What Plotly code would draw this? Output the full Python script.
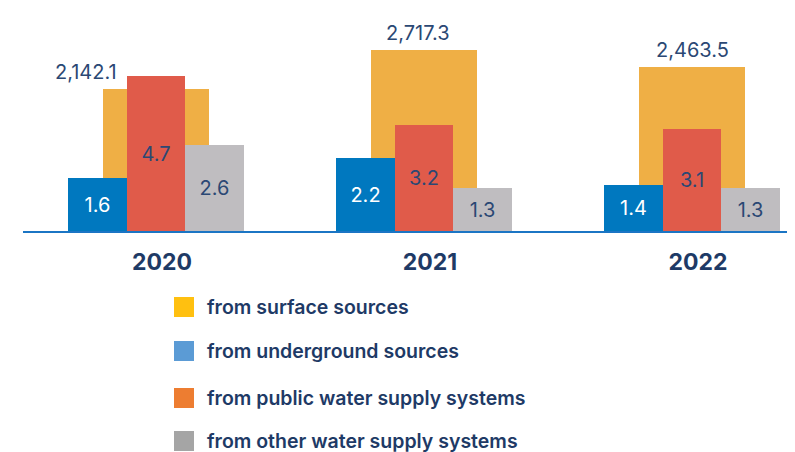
import plotly.graph_objects as go

years = ["2020", "2021", "2022"]
surface = [2142.1, 2717.3, 2463.5]
underground = [1.6, 2.2, 1.4]
public = [4.7, 3.2, 3.1]
other = [2.6, 1.3, 1.3]
legend_labels = ["from surface sources", "from underground sources",
                 "from public water supply systems", "from other water supply systems"]

OFF = 8  # default page body margin
W, H = 795 - OFF, 452 - OFF
L, T = 23 - OFF, 0
AXIS_Y = 231 - OFF
B = H - AXIS_Y
PW, PH = W - L, AXIS_Y - T

NAVY = "#2B4874"
TITLE = "#1E3A66"
FONT = "Inter, Lato, sans-serif"

C_SURF = "#EFAF45"
C_UND = "#0078BF"
C_PUB = "#E05B4A"
C_OTH = "#BFBDC0"
LEG_COLORS = ["#FFC010", "#5B9BD5", "#ED7D31", "#A5A5A5"]

xs = list(range(len(years)))

fig = go.Figure()
fig.add_trace(go.Bar(x=xs, y=surface, width=0.396, offset=-0.198, marker_color=C_SURF,
                     marker_line_width=0, yaxis="y", showlegend=False, hoverinfo="skip"))

small = [(underground, C_UND, -0.33, "white"),
         (public, C_PUB, -0.11, NAVY),
         (other, C_OTH, 0.11, NAVY)]
for vals, col, off, tcol in small:
    fig.add_trace(go.Bar(x=xs, y=vals, width=0.22, offset=off, marker_color=col,
                         marker_line_width=0, yaxis="y2", showlegend=False,
                         texttemplate="%{y:.1f}", textposition="inside",
                         insidetextanchor="middle", textangle=0, constraintext="none",
                         insidetextfont=dict(color=tcol, size=20, family=FONT),
                         hoverinfo="skip"))

# value labels for surface sources
xshifts = [-70, -6, 0]
for i, v in enumerate(surface):
    fig.add_annotation(x=xs[i], y=v, xref="x", yref="y", text=f"{v:,.1f}",
                       showarrow=False, yanchor="bottom", yshift=3, xshift=xshifts[i],
                       font=dict(size=20, color=NAVY, family=FONT))

def px_x(p):
    return (p - OFF - L) / PW

def px_y(p):
    return (AXIS_Y - (p - OFF)) / PH

# legend
rows = [307, 351, 398, 441]
for lab, col, yc in zip(legend_labels, LEG_COLORS, rows):
    fig.add_shape(type="rect", xref="paper", yref="paper",
                  x0=px_x(174), x1=px_x(194), y0=px_y(yc - 10), y1=px_y(yc + 10),
                  fillcolor=col, line_width=0)
    fig.add_annotation(x=px_x(205), y=px_y(yc), xref="paper", yref="paper",
                       text=lab, showarrow=False, xanchor="left", yanchor="middle",
                       font=dict(size=19.5, color=TITLE, family=FONT, weight=600))

x0_data = (23 - 156) / 268
x1_data = (795 - 156) / 268
fig.update_layout(
    width=W, height=H,
    margin=dict(l=L, r=0, t=T, b=B),
    paper_bgcolor="white", plot_bgcolor="white",
    barmode="overlay", bargap=0,
    xaxis=dict(range=[x0_data, x1_data], tickvals=xs, ticktext=years,
               showgrid=False, zeroline=False, showline=True, linecolor="#1B75C4",
               linewidth=1.5, ticks="", ticklabelshift=6, ticklabelstandoff=10,
               tickfont=dict(size=23, color=TITLE, family=FONT, weight="bold")),
    yaxis=dict(range=[0, 3353], visible=False, showgrid=False, zeroline=False),
    yaxis2=dict(range=[0, 6.75], overlaying="y", visible=False, showgrid=False, zeroline=False),
)

fig.write_html("out.html")
